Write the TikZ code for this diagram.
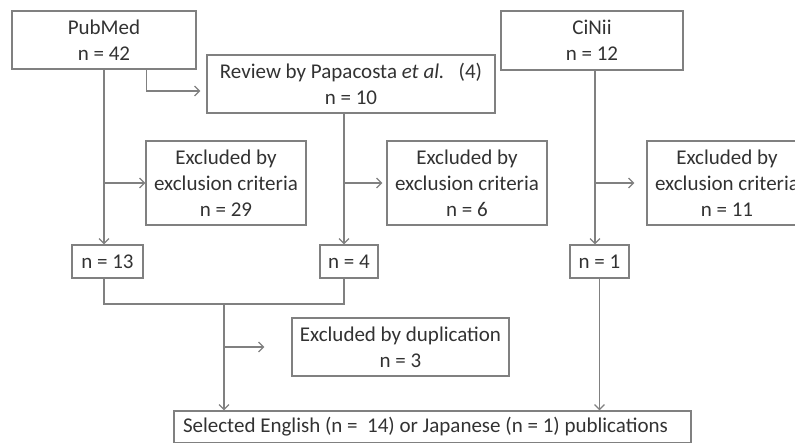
\documentclass[tikz,border=0pt]{standalone}
\usepackage{fontspec}
\setmainfont{Carlito}
\usetikzlibrary{arrows.meta, calc}
\definecolor{boxline}{RGB}{128,128,128}
\definecolor{boxtext}{RGB}{50,50,50}

\begin{document}
\begin{tikzpicture}[x=1pt,y=-1pt]\tikzset{box/.style={draw=boxline, line width=1.2pt, text=boxtext, align=center, inner sep=0pt, font=\fontsize{21}{26}\selectfont}, ln/.style={draw=boxline, line width=1.2pt}, arr/.style={ln, -{Straight Barb[length=5pt,width=10pt]}}}
	\useasboundingbox (0,0) rectangle (795,442);
	\clip (0,0) rectangle (795,442);
	% sources
	\node[box, minimum width=184, minimum height=58] (pubmed) at (104,40) {PubMed\\n = 42};
	\node[box, minimum width=288, minimum height=58] (review) at (351,84) {Review by Papacosta \textit{et al.}\ \ \ (4)\\n = 10};
	\node[box, minimum width=182, minimum height=59] (cinii) at (592,40.5) {CiNii\\n = 12};
	% exclusions
	\node[box, minimum width=160, minimum height=84] (ex29) at (226,183) {Excluded by\\exclusion criteria\\n = 29};
	\node[box, minimum width=160, minimum height=84] (ex6) at (467,183) {Excluded by\\exclusion criteria\\n = 6};
	\node[box, minimum width=160, minimum height=84] (ex11) at (727,183) {Excluded by\\exclusion criteria\\n = 11};
	% counts
	\node[box, minimum width=71, minimum height=33] (n13) at (107.5,261.5) {n = 13};
	\node[box, minimum width=58, minimum height=33] (n4) at (349,261.5) {n = 4};
	\node[box, minimum width=59, minimum height=33] (n1) at (599.5,261.5) {n = 1};
	\node[box, minimum width=217, minimum height=58] (dup) at (400.5,347) {Excluded by duplication\\n = 3};
	\node[box, minimum width=517, minimum height=32] (sel) at (432.5,427) {\makebox[499pt][l]{Selected English (n = \ 14) or Japanese (n = 1) publications}};
	\coordinate (rv) at ($(review.south)+(-7,0)$);
	\coordinate (ci) at ($(cinii.south)+(3,0)$);
	\coordinate (mg) at (224,304);
	% connectors
	\draw[arr] (pubmed.south) -- (pubmed.south |- n13.north);
	\draw[arr] (pubmed.south |- ex29.west) -- (ex29.west);
	\draw[arr] ($(pubmed.south east)+(-50,0)$) |- ($(review.west)+(-6,7)$);
	\draw[arr] (rv) -- (rv |- n4.north);
	\draw[arr] (rv |- ex6.west) -- ($(ex6.west)+(-4,0)$);
	\draw[arr] (ci) -- (ci |- n1.north);
	\draw[arr] (ci |- ex11.west) -- ($(ex11.west)+(-12,0)$);
	\draw[ln] (pubmed.south |- n13.south) |- (mg) -| (rv |- n4.south);
	\draw[arr] (mg) -- (mg |- sel.north);
	\draw[arr] (mg |- dup.west) -- ($(dup.west)+(-27,0)$);
	\draw[arr] (n1.south) -- (n1.south |- sel.north);
\end{tikzpicture}
\end{document}
